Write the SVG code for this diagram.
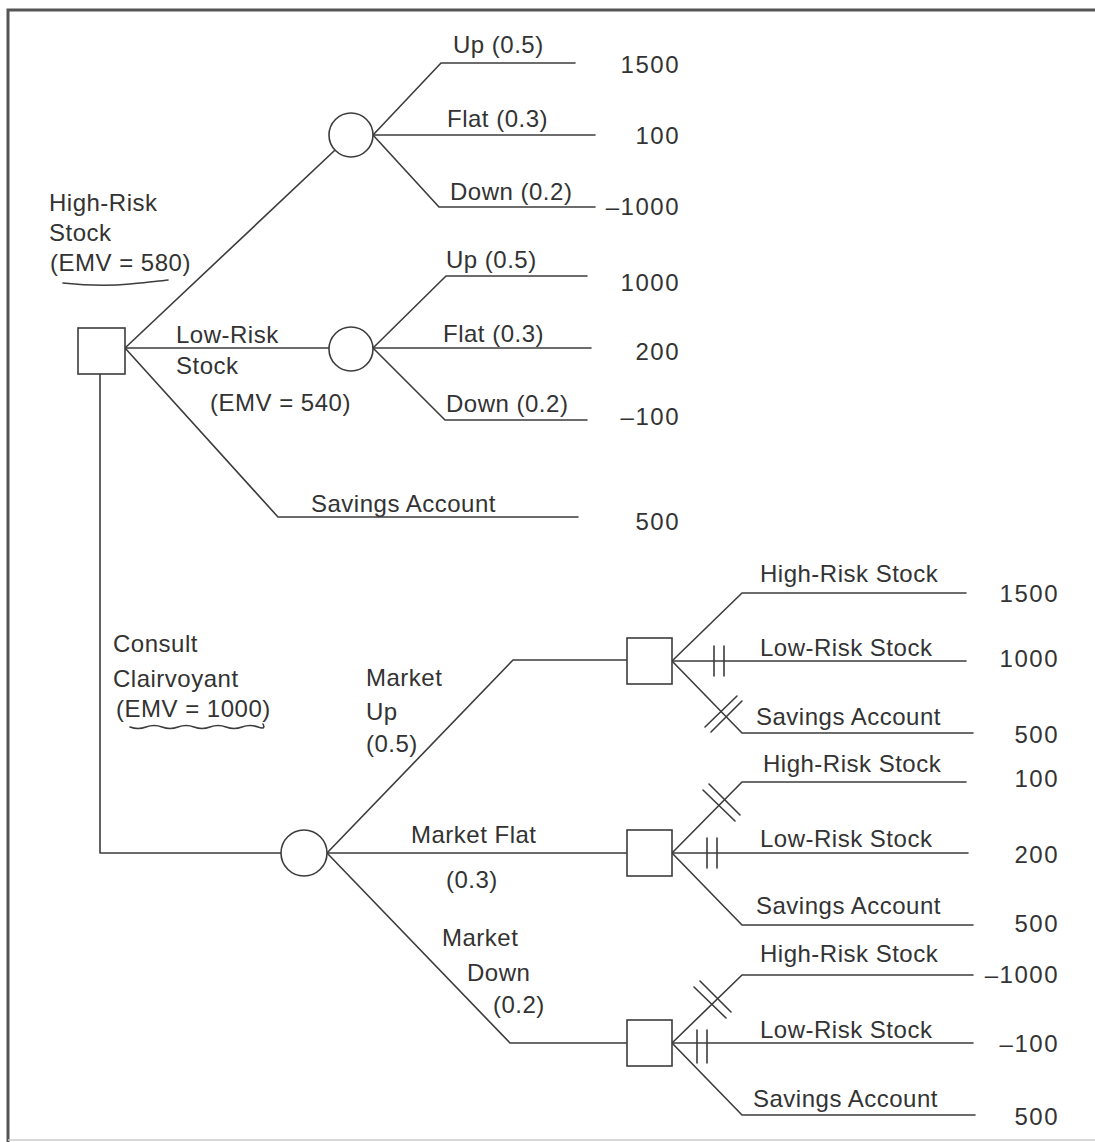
<svg xmlns="http://www.w3.org/2000/svg" width="1095" height="1142" viewBox="0 0 1095 1142">
<style>
.ln{stroke:#3c3c3c;stroke-width:1.6;fill:none;stroke-linejoin:round;stroke-linecap:round}
.nd{stroke:#3c3c3c;stroke-width:1.6;fill:#fff}
.t{font-family:"Liberation Sans",Arial,sans-serif;font-size:24px;fill:#333;letter-spacing:0.5px}
.v{font-family:"Liberation Sans",Arial,sans-serif;font-size:24px;fill:#333;letter-spacing:1.5px;text-anchor:end}
.frame{stroke:#555;stroke-width:3;fill:none}
</style>
<rect width="1095" height="1142" fill="#fff"/>
<g id="frame">
<path class="frame" d="M8,1142 V10 H1095"/>
<path d="M8,1140 H1095" stroke="#ccc" stroke-width="1.5" fill="none"/>
</g>
<g id="connectors">
<path class="ln" d="M125,348 L351,135"/>
<path class="ln" d="M125,348 H351"/>
<path class="ln" d="M125,348 L278,517 H578"/>
<path class="ln" d="M373,135 L441,63 H575"/>
<path class="ln" d="M373,135 H595"/>
<path class="ln" d="M373,135 L439,207 H595"/>
<path class="ln" d="M373,348 L446,276 H587"/>
<path class="ln" d="M373,348 H591"/>
<path class="ln" d="M373,348 L445,420 H587"/>
<path class="ln" d="M100,374 V853 H304"/>
<path class="ln" d="M327,853 L513,660 H627"/>
<path class="ln" d="M327,853 H627"/>
<path class="ln" d="M327,853 L510,1043 H627"/>
<path class="ln" d="M672,661 L742,593 H966"/>
<path class="ln" d="M672,661 H966"/>
<path class="ln" d="M672,661 L742,733 H973"/>
<path class="ln" d="M672,853 L742,782 H966"/>
<path class="ln" d="M672,853 H968"/>
<path class="ln" d="M672,853 L742,925 H973"/>
<path class="ln" d="M672,1043 L742,975 H973"/>
<path class="ln" d="M672,1043 H973"/>
<path class="ln" d="M672,1043 L742,1115 H975"/>
</g>
<g id="hatches">
<path class="ln" d="M714,646 V676 M724,646 V676"/>
<path class="ln" d="M705,727 L737,696 M711,732 L742,701"/>
<path class="ln" d="M703,790 L735,821 M709,784 L740,815"/>
<path class="ln" d="M707,838 V868 M717,838 V868"/>
<path class="ln" d="M694,987 L726,1018 M700,981 L731,1012"/>
<path class="ln" d="M697,1030 V1063 M707,1030 V1063"/>
</g>
<g id="decision-main"><rect class="nd" x="78" y="328" width="47" height="46"/></g>
<g id="chance-high"><circle class="nd" cx="351" cy="135" r="22"/></g>
<g id="chance-low"><circle class="nd" cx="351" cy="349" r="22"/></g>
<g id="chance-market"><circle class="nd" cx="304" cy="853" r="23"/></g>
<g id="decision-up"><rect class="nd" x="627" y="638" width="45" height="46"/></g>
<g id="decision-flat"><rect class="nd" x="627" y="830" width="45" height="46"/></g>
<g id="decision-down"><rect class="nd" x="627" y="1020" width="45" height="46"/></g>
<g id="labels">
<text class="t" x="49" y="211">High-Risk</text>
<text class="t" x="49" y="241">Stock</text>
<text class="t" x="50" y="271">(EMV = 580)</text>
<path class="ln" d="M63,283 Q100,287 130,284 T168,280" stroke-width="1.8"/>
<text class="t" x="176" y="343">Low-Risk</text>
<text class="t" x="176" y="374">Stock</text>
<text class="t" x="210" y="411">(EMV = 540)</text>
<text class="t" x="453" y="53">Up (0.5)</text>
<text class="t" x="447" y="127">Flat (0.3)</text>
<text class="t" x="450" y="200">Down (0.2)</text>
<text class="v" x="680" y="73">1500</text>
<text class="v" x="680" y="144">100</text>
<text class="v" x="680" y="215">–1000</text>
<text class="t" x="446" y="268">Up (0.5)</text>
<text class="t" x="443" y="342">Flat (0.3)</text>
<text class="t" x="446" y="412">Down (0.2)</text>
<text class="v" x="680" y="291">1000</text>
<text class="v" x="680" y="360">200</text>
<text class="v" x="680" y="425">–100</text>
<text class="t" x="311" y="512">Savings Account</text>
<text class="v" x="680" y="530">500</text>
<text class="t" x="113" y="652">Consult</text>
<text class="t" x="113" y="687">Clairvoyant</text>
<text class="t" x="116" y="717">(EMV = 1000)</text>
<path class="ln" d="M130,727 q8,3 16,0 t16,0 t16,0 t16,0 t16,0 t16,0 t16,0 t16,0 t5,-3" stroke-width="1.6"/>
<text class="t" x="366" y="686">Market</text>
<text class="t" x="366" y="720">Up</text>
<text class="t" x="366" y="752">(0.5)</text>
<text class="t" x="411" y="843">Market Flat</text>
<text class="t" x="446" y="888">(0.3)</text>
<text class="t" x="442" y="946">Market</text>
<text class="t" x="467" y="981">Down</text>
<text class="t" x="493" y="1013">(0.2)</text>
<text class="t" x="760" y="582">High-Risk Stock</text>
<text class="t" x="760" y="656">Low-Risk Stock</text>
<text class="t" x="756" y="725">Savings Account</text>
<text class="v" x="1059" y="602">1500</text>
<text class="v" x="1059" y="667">1000</text>
<text class="v" x="1059" y="743">500</text>
<text class="t" x="763" y="772">High-Risk Stock</text>
<text class="t" x="760" y="847">Low-Risk Stock</text>
<text class="t" x="756" y="914">Savings Account</text>
<text class="v" x="1059" y="787">100</text>
<text class="v" x="1059" y="863">200</text>
<text class="v" x="1059" y="932">500</text>
<text class="t" x="760" y="962">High-Risk Stock</text>
<text class="t" x="760" y="1038">Low-Risk Stock</text>
<text class="t" x="753" y="1107">Savings Account</text>
<text class="v" x="1059" y="983">–1000</text>
<text class="v" x="1059" y="1052">–100</text>
<text class="v" x="1059" y="1125">500</text>
</g>
</svg>
